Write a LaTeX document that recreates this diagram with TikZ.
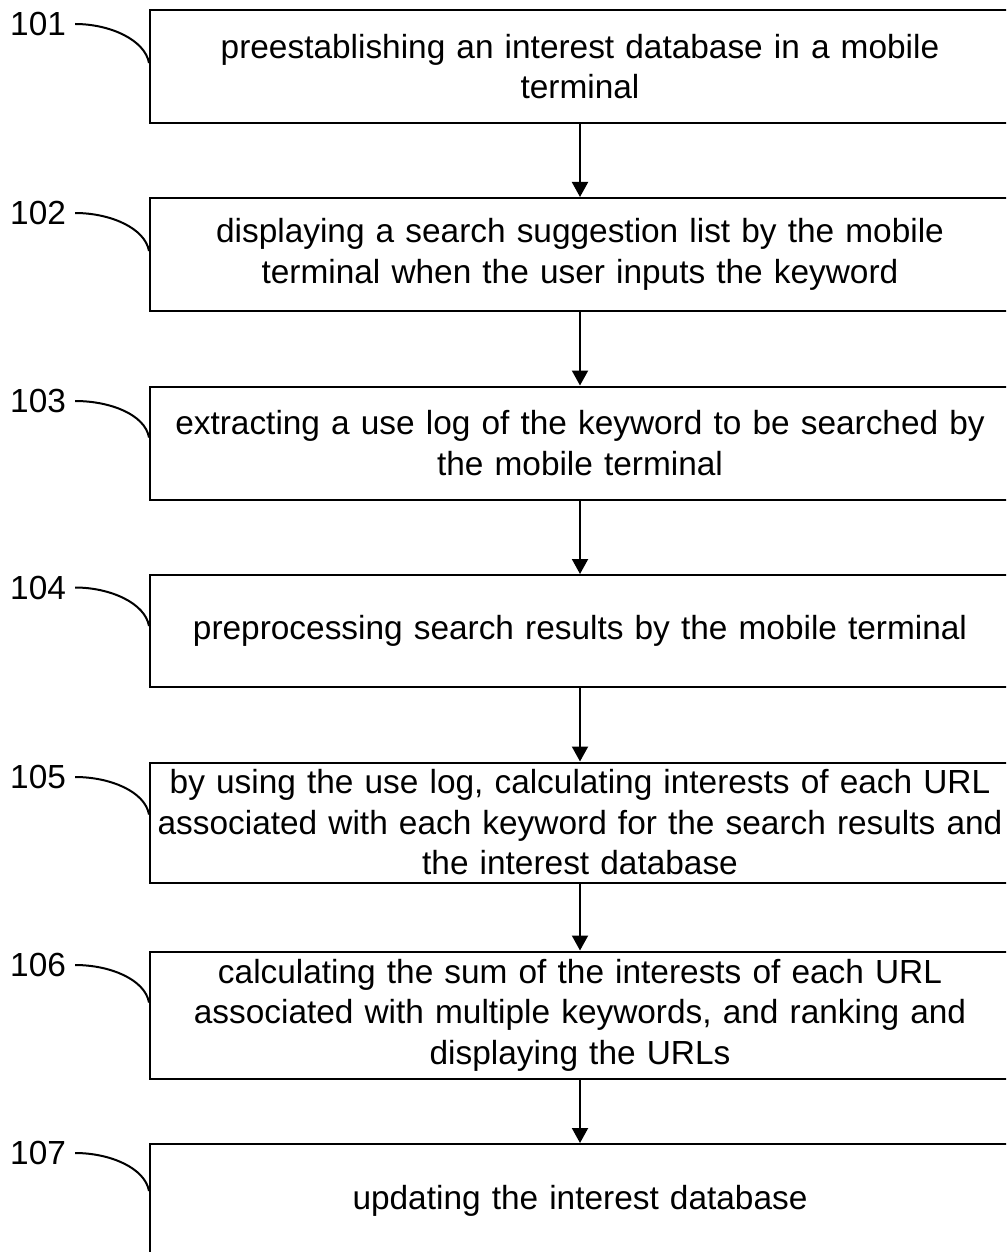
\documentclass[tikz,border=0pt]{standalone}
\usepackage{fontspec}
\setmainfont{Liberation Sans}
\usetikzlibrary{arrows.meta}
\begin{document}
\begin{tikzpicture}[x=1pt,y=1pt,
  stepbox/.style={draw, line width=2pt, anchor=north west, minimum width=860pt,
    text width=860pt, inner xsep=0pt, inner ysep=5pt, align=center,
    font=\fontsize{33.4}{40.5}\selectfont},
  steplabel/.style={anchor=west, inner sep=0pt, font=\fontsize{33.4}{40}\selectfont},
  arr/.style={line width=2pt, -{Triangle[length=15pt,width=16pt]}},
  leader/.style={line width=2pt}
]
\clip (0,0) rectangle (1006,-1252);
\fill[white] (0,0) rectangle (1006,-1252);

\node[stepbox, minimum height=113pt] (b1) at (149,-9)
  {preestablishing an interest database in a mobile\\terminal};
\node[stepbox, minimum height=113pt] (b2) at (149,-197)
  {displaying a search suggestion list by the mobile\\terminal when the user inputs the keyword};
\node[stepbox, minimum height=113pt] (b3) at (149,-385.5)
  {extracting a use log of the keyword to be searched by\\the mobile terminal};
\node[stepbox, minimum height=112pt] (b4) at (149,-574)
  {preprocessing search results by the mobile terminal};
\node[stepbox, minimum height=120pt] (b5) at (149,-761.5)
  {by using the use log, calculating interests of each URL\\associated with each keyword for the search results and\\the interest database};
\node[stepbox, minimum height=127pt] (b6) at (149,-950.5)
  {calculating the sum of the interests of each URL\\associated with multiple keywords, and ranking and\\displaying the URLs};
\node[stepbox, minimum height=113pt] (b7) at (149,-1143)
  {updating the interest database};

\draw[arr] (b1.south) -- (b2.north);
\draw[arr] (b2.south) -- (b3.north);
\draw[arr] (b3.south) -- (b4.north);
\draw[arr] (b4.south) -- (b5.north);
\draw[arr] (b5.south) -- (b6.north);
\draw[arr] (b6.south) -- (b7.north);

\node[steplabel] (l1) at (10,-24) {101};
\node[steplabel] (l2) at (10,-213) {102};
\node[steplabel] (l3) at (10,-401) {103};
\node[steplabel] (l4) at (10,-587.5) {104};
\node[steplabel] (l5) at (10,-777) {105};
\node[steplabel] (l6) at (10,-965) {106};
\node[steplabel] (l7) at (10,-1153) {107};

\draw[leader] ([xshift=9pt]l1.east) .. controls +(35,0) and +(-4,23) .. ([yshift=-54pt]b1.north west);
\draw[leader] ([xshift=9pt]l2.east) .. controls +(35,0) and +(-4,23) .. ([yshift=-54pt]b2.north west);
\draw[leader] ([xshift=9pt]l3.east) .. controls +(35,0) and +(-4,23) .. ([yshift=-52pt]b3.north west);
\draw[leader] ([xshift=9pt]l4.east) .. controls +(35,0) and +(-4,23) .. ([yshift=-52pt]b4.north west);
\draw[leader] ([xshift=9pt]l5.east) .. controls +(35,0) and +(-4,23) .. ([yshift=-53pt]b5.north west);
\draw[leader] ([xshift=9pt]l6.east) .. controls +(35,0) and +(-4,23) .. ([yshift=-52pt]b6.north west);
\draw[leader] ([xshift=9pt]l7.east) .. controls +(35,0) and +(-4,23) .. ([yshift=-48pt]b7.north west);
\end{tikzpicture}
\end{document}
